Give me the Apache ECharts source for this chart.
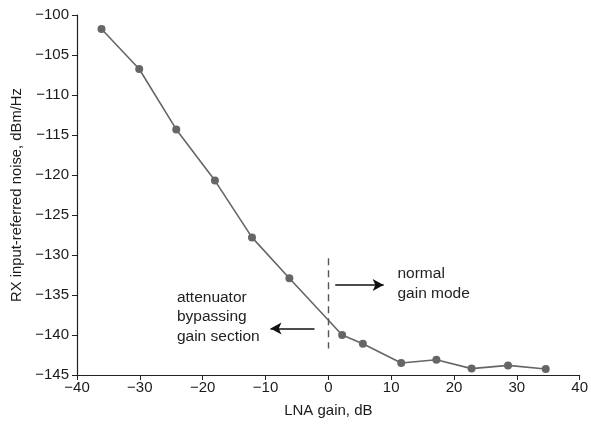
<!DOCTYPE html>
<html><head><meta charset="utf-8">
<script src="https://cdn.jsdelivr.net/npm/echarts@6/dist/echarts.min.js"></script>
<style>html,body{margin:0;padding:0;background:#fff}#c{width:591px;height:425px}</style>
</head><body><div id="c"></div>
<script>
const gainDb = [-36.1, -30.1, -24.2, -18.05, -12.15, -6.2, 2.2, 5.5, 11.6, 17.2, 22.8, 28.6, 34.6];
const noiseDbmHz = [-101.75, -106.75, -114.3, -120.7, -127.8, -132.9, -140.0, -141.1, -143.5, -143.1, -144.2, -143.8, -144.25];
const xTicks = [-40, -30, -20, -10, 0, 10, 20, 30, 40];
const yTicks = [-145, -140, -135, -130, -125, -120, -115, -110, -105, -100];
const boundaryX = 0;
const boundaryY = [-130.4, -141.7];
const rightArrow = [[1.1, -133.75], [8.8, -133.75]];
const leftArrow = [[-2.2, -139.2], [-9.2, -139.2]];
const labelNormal = [11.0, -133.6, 'normal\ngain mode'];
const labelAtten = [-24.1, -137.75, 'attenuator\nbypassing\ngain section'];

const font = '"Liberation Sans", Arial, sans-serif';
const minus = v => String(v).replace('-', '\u2212');
const chart = echarts.init(document.getElementById('c'));
chart.setOption({
  animation: false,
  textStyle: {fontFamily: font},
  grid: {left: 77, right: 11, top: 15, bottom: 50},
  xAxis: {
    type: 'value', min: xTicks[0], max: xTicks[xTicks.length-1], interval: 10,
    name: 'LNA gain, dB', nameLocation: 'middle', nameGap: 28,
    nameTextStyle: {fontSize: 15, color: '#1a1a1a', fontFamily: font},
    axisLine: {onZero: false, lineStyle: {color: '#222', width: 1.2}},
    axisTick: {length: 5, lineStyle: {color: '#222'}},
    axisLabel: {fontSize: 15, color: '#1a1a1a', fontFamily: font, margin: 5, formatter: minus},
    splitLine: {show: false}
  },
  yAxis: {
    type: 'value', min: yTicks[0], max: yTicks[yTicks.length-1], interval: 5,
    name: 'RX input-referred noise, dBm/Hz', nameLocation: 'middle', nameGap: 50,
    nameTextStyle: {fontSize: 14.8, color: '#1a1a1a', fontFamily: font},
    axisLine: {show: true, onZero: false, lineStyle: {color: '#222', width: 1.2}},
    axisTick: {show: true, length: 5, lineStyle: {color: '#222'}},
    axisLabel: {fontSize: 15, color: '#1a1a1a', fontFamily: font, margin: 8, formatter: minus},
    splitLine: {show: false}
  },
  series: [
    {
      type: 'line',
      data: gainDb.map((x, i) => [x, noiseDbmHz[i]]),
      symbol: 'circle', symbolSize: 8,
      lineStyle: {color: '#666', width: 1.6},
      itemStyle: {color: '#666'},
      z: 3,
      markLine: {
        silent: true, animation: false,
        label: {show: false},
        data: [
          [{coord: [boundaryX, boundaryY[0]], symbol: 'none'}, {coord: [boundaryX, boundaryY[1]], symbol: 'none',
            lineStyle: {color: '#555', type: [7, 5], width: 1.4}}],
          [{coord: rightArrow[0], symbol: 'none'}, {coord: rightArrow[1], symbol: 'arrow', symbolSize: [9, 11],
            lineStyle: {color: '#111', type: 'solid', width: 1.5}}],
          [{coord: leftArrow[0], symbol: 'none'}, {coord: leftArrow[1], symbol: 'arrow', symbolSize: [9, 11],
            lineStyle: {color: '#111', type: 'solid', width: 1.5}}]
        ],
        lineStyle: {color: '#111', type: 'solid', width: 1.5}
      }
    },
    {
      type: 'scatter', symbolSize: 0, silent: true,
      itemStyle: {opacity: 1},
      data: [labelNormal, labelAtten].map(d => ({value: [d[0], d[1]], name: d[2]})),
      label: {show: true, position: 'right', distance: 0, formatter: p => p.name, opacity: 1,
        fontSize: 15.5, lineHeight: 19.5, color: '#222', fontFamily: font, align: 'left', verticalAlign: 'middle'}
    }
  ]
});
</script></body></html>
